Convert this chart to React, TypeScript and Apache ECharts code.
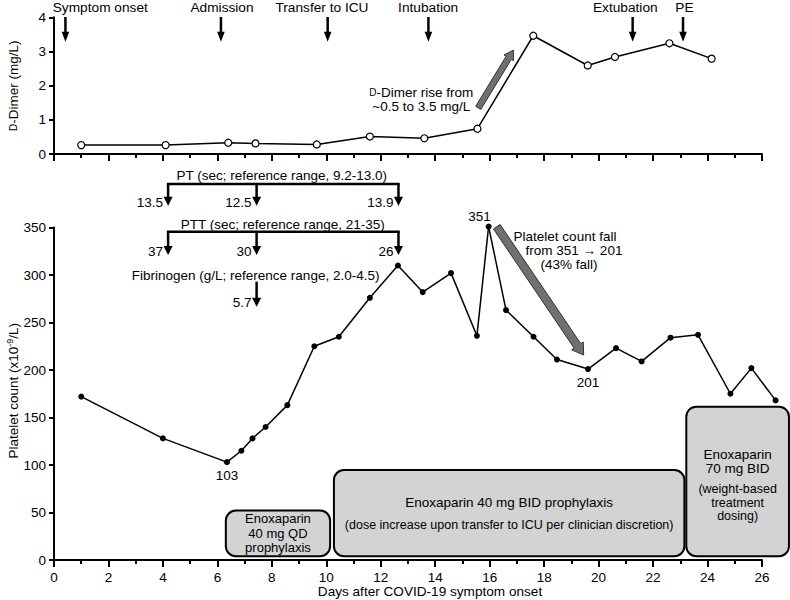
import React, { useEffect, useRef } from 'react';
import * as echarts from 'echarts';

// ---------- data ----------
const dimerDays = [1.0, 4.1, 6.4, 7.4, 9.65, 11.6, 13.6, 15.55, 17.6, 19.6, 20.6, 22.6, 24.15];
const dimerValues = [0.26, 0.26, 0.33, 0.31, 0.28, 0.51, 0.46, 0.74, 3.46, 2.59, 2.84, 3.24, 2.79];

const plateletDays = [1.0, 4.0, 6.35, 6.88, 7.29, 7.77, 8.57, 9.56, 10.46, 11.6, 12.63, 13.54, 14.58, 15.53, 15.96, 16.6, 17.61, 18.47, 19.61, 20.64, 21.58, 22.64, 23.65, 24.84, 25.61, 26.5];
const plateletValues = [172, 128, 103, 115, 128, 140, 163, 225, 235, 276, 310, 282, 302, 236, 351, 263, 235, 211, 201, 223, 209, 234, 237, 175, 202, 168];
const labelledPlatelets = [2, 14, 18];

const eventLabels = ['Symptom onset', 'Admission', 'Transfer to ICU', 'Intubation', 'Extubation', 'PE'];
const eventDays = [0.42, 6.13, 10.05, 13.75, 21.25, 23.1];
const eventLabelDays = [1.7, 6.17, 9.84, 13.74, 20.98, 23.15];

const labDays = [4.19, 7.44, 12.65];
const ptValues = ['13.5', '12.5', '13.9'];
const pttValues = ['37', '30', '26'];
const fibrinogenDay = 7.44;
const fibrinogenValue = '5.7';

const boxStart = [6.31, 10.28, 23.22];
const boxEnd = [10.14, 23.15, 26.99];
const boxTop = [52, 94.7, 161.4];
const boxBottom = [4, 4, 4];

const dimerArrow = [[15.58, 1.35], [16.87, 3.04]];
const plateletArrow = [[16.26, 350.8], [19.45, 215.8]];

const FONT = '"Liberation Sans", Arial, Helvetica, sans-serif';
const FS = 13.5;

function arrowPoly(sx: number, sy: number, ex: number, ey: number, w: number, h: number, L: number) {
  const dx = ex - sx, dy = ey - sy;
  const len = Math.hypot(dx, dy);
  const ux = dx / len, uy = dy / len;
  const nx = -uy, ny = ux;
  const bx = ex - ux * L, by = ey - uy * L;
  return [
    [sx + nx * w, sy + ny * w],
    [bx + nx * w, by + ny * w],
    [bx + nx * h, by + ny * h],
    [ex, ey],
    [bx - nx * h, by - ny * h],
    [bx - nx * w, by - ny * w],
    [sx - nx * w, sy - ny * w],
  ];
}

function txt(x: number, y: number, text: string, extra: any = {}) {
  return {
    type: 'text',
    x,
    y,
    silent: true,
    style: {
      text,
      fontSize: FS,
      fontFamily: FONT,
      fill: '#000',
      align: 'center',
      verticalAlign: 'middle',
      ...extra,
    },
  };
}

function downArrow(x: number, y0: number, y1: number, half = 4.5, head = 9, lw = 2.5) {
  return [
    { type: 'line', silent: true, shape: { x1: x, y1: y0, x2: x, y2: y1 - head + 1 }, style: { stroke: '#000', lineWidth: lw } },
    { type: 'polygon', silent: true, shape: { points: [[x - half, y1 - head], [x + half, y1 - head], [x, y1]] }, style: { fill: '#000' } },
  ];
}

export default function App() {
  const ref = useRef<HTMLDivElement>(null);
  useEffect(() => {
    const chart = echarts.init(ref.current!, null, { renderer: 'svg' });
    const axisCommon = {
      axisLine: { show: true, lineStyle: { color: '#000', width: 2 } },
      axisTick: { show: true, length: 5, lineStyle: { color: '#000', width: 2 } },
      splitLine: { show: false },
      axisLabel: { color: '#000', fontSize: FS, fontFamily: FONT, margin: 8 },
    };
    const xCommon = {
      type: 'value',
      min: 0,
      max: 26,
      interval: 2,
      ...axisCommon,
      axisTick: { show: true, length: 7, lineStyle: { color: '#000', width: 2 } },
      minorTick: { show: true, splitNumber: 2, length: 4, lineStyle: { color: '#000', width: 2 } },
      minorSplitLine: { show: false },
    };
    const plateletData = plateletDays.map((d, i) => {
      const v = plateletValues[i];
      if (!labelledPlatelets.includes(i)) return [d, v];
      const lab: any = { show: true, color: '#000', fontSize: FS, fontFamily: FONT, formatter: String(v) };
      if (i === 14) Object.assign(lab, { position: 'top', distance: 0, offset: [-9, 0] });
      else Object.assign(lab, { position: 'bottom', distance: 3 });
      return { value: [d, v], label: lab };
    });
    const segments = plateletDays.slice(1).map((d, k) => [plateletDays[k], plateletValues[k], d, plateletValues[k + 1]]);
    const option: any = {
      animation: false,
      backgroundColor: '#fff',
      textStyle: { fontFamily: FONT },
      grid: [
        { left: 54, right: 28, top: 17.3, height: 136.7, containLabel: false, outerBoundsMode: 'none' },
        { left: 54, right: 28, top: 227.5, bottom: 40, containLabel: false, outerBoundsMode: 'none' },
      ],
      xAxis: [
        { ...xCommon, gridIndex: 0, axisLabel: { show: false } },
        { ...xCommon, gridIndex: 1, axisLabel: { ...axisCommon.axisLabel, margin: 10 } },
      ],
      yAxis: [
        {
          type: 'value', gridIndex: 0, min: 0, max: 4, interval: 1, ...axisCommon,
          name: '{sc|D}-Dimer (mg/L)', nameLocation: 'middle', nameGap: 34,
          nameTextStyle: { color: '#000', fontSize: FS, fontFamily: FONT, rich: { sc: { fontSize: 10, fontFamily: FONT, color: '#000' } } },
        },
        {
          type: 'value', gridIndex: 1, min: 0, max: 350, interval: 50, ...axisCommon,
        },
      ],
      series: [
        {
          type: 'line', xAxisIndex: 0, yAxisIndex: 0,
          data: dimerDays.map((d, i) => [d, dimerValues[i]]),
          symbol: 'circle', symbolSize: 7,
          lineStyle: { color: '#000', width: 1.5 },
          itemStyle: { color: '#fff', borderColor: '#000', borderWidth: 1.2 },
          z: 5,
        },
        {
          type: 'custom', xAxisIndex: 1, yAxisIndex: 1, clip: false, silent: true,
          data: segments,
          encode: { x: [0, 2], y: [1, 3] },
          renderItem: (_params: any, api: any) => {
            const a = api.coord([api.value(0), api.value(1)]);
            const b = api.coord([api.value(2), api.value(3)]);
            return { type: 'line', shape: { x1: a[0], y1: a[1], x2: b[0], y2: b[1] }, style: { stroke: '#000', lineWidth: 1.5 } };
          },
          z: 4,
        },
        {
          type: 'line', xAxisIndex: 1, yAxisIndex: 1, clip: false,
          data: plateletData,
          symbol: 'circle', symbolSize: 6,
          lineStyle: { color: '#000', width: 0, opacity: 0 },
          itemStyle: { color: '#000' },
          z: 5,
        },
      ],
    };
    chart.setOption(option);

    const p0 = (d: number, v: number) => chart.convertToPixel({ gridIndex: 0 }, [d, v]) as number[];
    const p1 = (d: number, v: number) => chart.convertToPixel({ gridIndex: 1 }, [d, v]) as number[];
    const xd = (d: number) => p1(d, 0)[0];

    const g: any[] = [];

    // platelet y-axis title
    const yMid = (p1(0, 0)[1] + p1(0, 350)[1]) / 2;
    g.push({
      type: 'text', silent: true, x: 13.5, y: yMid - 3, rotation: Math.PI / 2,
      style: {
        text: 'Platelet count (x10{sup|-9}/L)', fontSize: FS, fontFamily: FONT, fill: '#000',
        align: 'center', verticalAlign: 'middle', lineHeight: 16,
        rich: { sup: { fontSize: 9, fontFamily: FONT, fill: '#000', verticalAlign: 'top', lineHeight: 16 } },
      },
    });

    // event arrows at top
    eventLabels.forEach((lab, i) => {
      g.push(txt(xd(eventLabelDays[i]), 7.5, lab, { fontSize: 13.7 }));
      g.push(...downArrow(xd(eventDays[i]), 17, 41.7, 3.8, 10, 2.5));
    });

    // PT bracket
    const lx = labDays.map(xd);
    const mid = (lx[0] + lx[2]) / 2;
    g.push(txt(mid - 1.5, 175, 'PT (sec; reference range, 9.2-13.0)'));
    g.push({ type: 'line', silent: true, shape: { x1: lx[0] - 1.25, y1: 184, x2: lx[2] + 1.25, y2: 184 }, style: { stroke: '#000', lineWidth: 2.5 } });
    lx.forEach((x, i) => {
      g.push(...downArrow(x, 184, 205.7));
      g.push(txt(x - 5, 202, ptValues[i], { align: 'right' }));
    });
    // PTT bracket
    g.push(txt(mid - 0.5, 224.5, 'PTT (sec; reference range, 21-35)'));
    g.push({ type: 'line', silent: true, shape: { x1: lx[0] - 1.25, y1: 231.7, x2: lx[2] + 1.25, y2: 231.7 }, style: { stroke: '#000', lineWidth: 2.5 } });
    lx.forEach((x, i) => {
      g.push(...downArrow(x, 231.7, 255));
      g.push(txt(x - 5, 251.5, pttValues[i], { align: 'right' }));
    });
    // Fibrinogen
    const fx = xd(fibrinogenDay);
    g.push(txt(fx - 1, 275, 'Fibrinogen (g/L; reference range, 2.0-4.5)'));
    g.push(...downArrow(fx, 281.7, 306.7));
    g.push(txt(fx - 5, 302.5, fibrinogenValue, { align: 'right' }));

    // D-dimer rise arrow + note
    const da = p0(dimerArrow[0][0], dimerArrow[0][1]);
    const db = p0(dimerArrow[1][0], dimerArrow[1][1]);
    g.push({ type: 'polygon', silent: true, shape: { points: arrowPoly(da[0], da[1], db[0], db[1], 3, 5.5, 9) }, style: { fill: '#707070', stroke: '#333', lineWidth: 1 } });
    g.push(txt(da[0] - 57, 99.5, '{sc|D}-Dimer rise from\n~0.5 to 3.5 mg/L', { lineHeight: 14, rich: { sc: { fontSize: 10, fontFamily: FONT, fill: '#000', lineHeight: 14 } } }));

    // Platelet fall arrow + note
    const pa = p1(plateletArrow[0][0], plateletArrow[0][1]);
    const pb = p1(plateletArrow[1][0], plateletArrow[1][1]);
    g.push({ type: 'polygon', silent: true, shape: { points: arrowPoly(pa[0], pa[1], pb[0], pb[1], 4, 7, 11) }, style: { fill: '#707070', stroke: '#333', lineWidth: 1 } });
    g.push(txt(574, 250, '{a|Platelet count fall}\n{b|from 351 \u2192 201}\n{c|(43% fall)}', {
      lineHeight: 14,
      rich: {
        a: { fontSize: FS, fontFamily: FONT, fill: '#000', lineHeight: 14, padding: [0, 18, 0, 0] },
        b: { fontSize: FS, fontFamily: FONT, fill: '#000', lineHeight: 14 },
        c: { fontSize: FS, fontFamily: FONT, fill: '#000', lineHeight: 14, padding: [0, 10, 0, 0] },
      },
    }));

    // Treatment boxes
    const boxLines: [string, number, number][][] = [
      [['Enoxaparin', 8.2, 13], ['40 mg QD', 22.4, 13], ['prophylaxis', 36.4, 13]],
      [['Enoxaparin 40 mg BID prophylaxis', 32.7, FS], ['(dose increase upon transfer to ICU per clinician discretion)', 55, 12.5]],
      [['Enoxaparin', 48, FS], ['70 mg BID', 62.3, FS], ['(weight-based', 82.3, 12.5], ['treatment', 96.3, 12.5], ['dosing)', 109.7, 12.5]],
    ];
    boxStart.forEach((s, i) => {
      const a = p1(s, boxTop[i]);
      const b = p1(boxEnd[i], boxBottom[i]);
      g.push({
        type: 'rect', silent: true, z: 10,
        shape: { x: a[0], y: a[1], width: b[0] - a[0], height: b[1] - a[1], r: 10 },
        style: { fill: '#d3d3d3', stroke: '#000', lineWidth: 2 },
      });
      const cx = (a[0] + b[0]) / 2;
      boxLines[i].forEach(([t, dy, fs]) => {
        const el: any = txt(cx, a[1] + dy, t, { fontSize: fs });
        el.z = 11;
        g.push(el);
      });
    });

    // x-axis title
    g.push(txt(430, 591, 'Days after COVID-19 symptom onset', { fontSize: 13.6 }));

    chart.setOption({ graphic: g });
    return () => chart.dispose();
  }, []);
  return <div ref={ref} style={{ position: 'fixed', left: 0, top: 0, width: 790, height: 600, background: '#fff' }} />;
}
